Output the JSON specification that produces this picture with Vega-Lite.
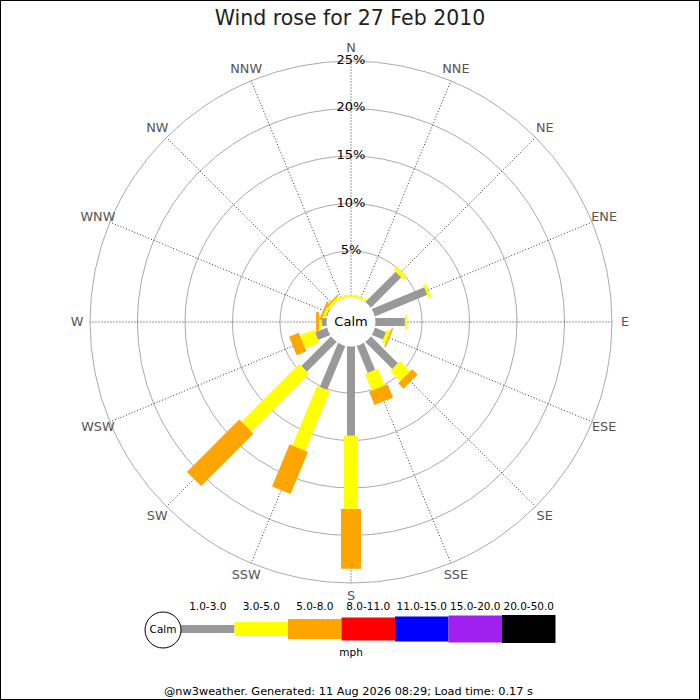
{
  "$schema": "https://vega.github.io/schema/vega-lite/v6.json",
  "width": 700,
  "height": 700,
  "autosize": "none",
  "padding": 0,
  "background": "white",
  "config": {
    "font": "DejaVu Sans",
    "view": {"stroke": "#000000", "strokeWidth": 2}
  },
  "title": {
    "text": "Wind rose for 27 Feb 2010",
    "font": "DejaVu Sans",
    "fontSize": 20.5,
    "fontWeight": "normal",
    "color": "#222222",
    "anchor": "middle",
    "baseline": "alphabetic",
    "offset": -45.5
  },
  "datasets": {
    "dirs": [
      {"dir": "N", "deg": 0},
      {"dir": "NNE", "deg": 22.5},
      {"dir": "NE", "deg": 45},
      {"dir": "ENE", "deg": 67.5},
      {"dir": "E", "deg": 90},
      {"dir": "ESE", "deg": 112.5},
      {"dir": "SE", "deg": 135},
      {"dir": "SSE", "deg": 157.5},
      {"dir": "S", "deg": 180},
      {"dir": "SSW", "deg": 202.5},
      {"dir": "SW", "deg": 225},
      {"dir": "WSW", "deg": 247.5},
      {"dir": "W", "deg": 270},
      {"dir": "WNW", "deg": 292.5},
      {"dir": "NW", "deg": 315},
      {"dir": "NNW", "deg": 337.5}
    ],
    "rings": [
      {"pct": 5, "label": "5%"},
      {"pct": 10, "label": "10%"},
      {"pct": 15, "label": "15%"},
      {"pct": 20, "label": "20%"},
      {"pct": 25, "label": "25%"}
    ],
    "bins": [
      {"speed": "1.0-3.0"},
      {"speed": "3.0-5.0"},
      {"speed": "5.0-8.0"},
      {"speed": "8.0-11.0"},
      {"speed": "11.0-15.0"},
      {"speed": "15.0-20.0"},
      {"speed": "20.0-50.0"}
    ],
    "rose": [
      {"dir": "N", "speed": "1.0-3.0", "pct": 0.05},
      {"dir": "N", "speed": "3.0-5.0", "pct": 0.3},
      {"dir": "NNE", "speed": "1.0-3.0", "pct": 0.05},
      {"dir": "NNE", "speed": "3.0-5.0", "pct": 0.3},
      {"dir": "NE", "speed": "1.0-3.0", "pct": 4.6},
      {"dir": "NE", "speed": "3.0-5.0", "pct": 0.45},
      {"dir": "ENE", "speed": "1.0-3.0", "pct": 6.05},
      {"dir": "ENE", "speed": "3.0-5.0", "pct": 0.3},
      {"dir": "E", "speed": "1.0-3.0", "pct": 3.2},
      {"dir": "E", "speed": "3.0-5.0", "pct": 0.2},
      {"dir": "ESE", "speed": "1.0-3.0", "pct": 1.35},
      {"dir": "ESE", "speed": "3.0-5.0", "pct": 0.4},
      {"dir": "ESE", "speed": "5.0-8.0", "pct": 0.15},
      {"dir": "SE", "speed": "1.0-3.0", "pct": 4.1},
      {"dir": "SE", "speed": "3.0-5.0", "pct": 1.5},
      {"dir": "SE", "speed": "5.0-8.0", "pct": 0.8},
      {"dir": "SSE", "speed": "1.0-3.0", "pct": 3.15},
      {"dir": "SSE", "speed": "3.0-5.0", "pct": 1.9},
      {"dir": "SSE", "speed": "5.0-8.0", "pct": 1.5},
      {"dir": "S", "speed": "1.0-3.0", "pct": 9.5},
      {"dir": "S", "speed": "3.0-5.0", "pct": 7.7},
      {"dir": "S", "speed": "5.0-8.0", "pct": 6.3},
      {"dir": "SSW", "speed": "1.0-3.0", "pct": 5.1},
      {"dir": "SSW", "speed": "3.0-5.0", "pct": 6.8},
      {"dir": "SSW", "speed": "5.0-8.0", "pct": 4.8},
      {"dir": "SW", "speed": "1.0-3.0", "pct": 4.5},
      {"dir": "SW", "speed": "3.0-5.0", "pct": 8.6},
      {"dir": "SW", "speed": "5.0-8.0", "pct": 7.8},
      {"dir": "WSW", "speed": "1.0-3.0", "pct": 1.45},
      {"dir": "WSW", "speed": "3.0-5.0", "pct": 1.6},
      {"dir": "WSW", "speed": "5.0-8.0", "pct": 1.1},
      {"dir": "W", "speed": "1.0-3.0", "pct": 0.6},
      {"dir": "W", "speed": "3.0-5.0", "pct": 0.3},
      {"dir": "W", "speed": "5.0-8.0", "pct": 0.3},
      {"dir": "WNW", "speed": "1.0-3.0", "pct": 0.2},
      {"dir": "WNW", "speed": "3.0-5.0", "pct": 0.3},
      {"dir": "WNW", "speed": "5.0-8.0", "pct": 0.2},
      {"dir": "NW", "speed": "1.0-3.0", "pct": 0.1},
      {"dir": "NW", "speed": "3.0-5.0", "pct": 0.3},
      {"dir": "NW", "speed": "5.0-8.0", "pct": 0.15},
      {"dir": "NNW", "speed": "1.0-3.0", "pct": 0.05},
      {"dir": "NNW", "speed": "3.0-5.0", "pct": 0.3}
    ]
  },
  "layer": [
    {
      "layer": [
        {
          "data": {"name": "rings"},
          "mark": {"type": "arc", "theta": 6.2832, "filled": false, "stroke": "#aaaaaa", "strokeWidth": 1},
          "encoding": {
            "x": {"datum": 0, "type": "quantitative", "scale": {"domain": [-36.947, 36.737], "nice": false, "zero": false}, "axis": null},
            "y": {"datum": 0, "type": "quantitative", "scale": {"domain": [-39.789, 33.895], "nice": false, "zero": false}, "axis": null},
            "radius": {"field": "pct", "type": "quantitative", "stack": null, "scale": {"type": "linear", "domain": [0, 25], "range": [23.5, 261], "zero": false}}
          }
        },
        {
          "data": {"name": "dirs"},
          "transform": [
            {"calculate": "2.474 * sin(datum.deg * PI / 180)", "as": "sx"},
            {"calculate": "2.474 * cos(datum.deg * PI / 180)", "as": "sy"},
            {"calculate": "27.474 * sin(datum.deg * PI / 180)", "as": "ex"},
            {"calculate": "27.474 * cos(datum.deg * PI / 180)", "as": "ey"}
          ],
          "mark": {"type": "rule", "stroke": "#333333", "strokeWidth": 1, "strokeDash": [1, 2]},
          "encoding": {
            "x": {"field": "sx", "type": "quantitative"},
            "y": {"field": "sy", "type": "quantitative"},
            "x2": {"field": "ex"},
            "y2": {"field": "ey"}
          }
        },
        {
          "data": {"name": "rose"},
          "transform": [
            {"lookup": "dir", "from": {"data": {"name": "dirs"}, "key": "dir", "fields": ["deg"]}},
            {"stack": "pct", "groupby": ["dir"], "sort": [{"field": "speed", "order": "ascending"}], "as": ["p0", "p1"]},
            {"calculate": "datum.deg * PI / 180", "as": "a"},
            {"calculate": "(2.474 + datum.p0) * sin(datum.a)", "as": "x0"},
            {"calculate": "(2.474 + datum.p0) * cos(datum.a)", "as": "y0"},
            {"calculate": "(2.474 + datum.p1) * sin(datum.a)", "as": "x1"},
            {"calculate": "(2.474 + datum.p1) * cos(datum.a)", "as": "y1"}
          ],
          "mark": {"type": "rule", "strokeCap": "butt"},
          "encoding": {
            "x": {"field": "x0", "type": "quantitative"},
            "y": {"field": "y0", "type": "quantitative"},
            "x2": {"field": "x1"},
            "y2": {"field": "y1"},
            "color": {
              "field": "speed",
              "type": "nominal",
              "scale": {
                "domain": ["1.0-3.0", "3.0-5.0", "5.0-8.0", "8.0-11.0", "11.0-15.0", "15.0-20.0", "20.0-50.0"],
                "range": ["#999999", "#ffff00", "#ffa500", "#ff0000", "#0000ff", "#a020f0", "#000000"]
              },
              "legend": null
            },
            "strokeWidth": {
              "field": "speed",
              "type": "nominal",
              "scale": {
                "type": "ordinal",
                "domain": ["1.0-3.0", "3.0-5.0", "5.0-8.0", "8.0-11.0", "11.0-15.0", "15.0-20.0", "20.0-50.0"],
                "range": [8, 14, 20, 23, 25, 27, 28]
              },
              "legend": null
            }
          }
        },
        {
          "data": {"values": [{"t": "Calm"}]},
          "mark": {"type": "arc", "theta": 6.2832, "radius": 24.5, "fill": "#ffffff"},
          "encoding": {
            "x": {"datum": 0, "type": "quantitative"},
            "y": {"datum": 0, "type": "quantitative"}
          }
        },
        {
          "data": {"values": [{"t": "Calm"}]},
          "mark": {"type": "text", "fontSize": 13, "color": "#000000"},
          "encoding": {
            "x": {"datum": 0, "type": "quantitative"},
            "y": {"datum": 0, "type": "quantitative"},
            "text": {"field": "t"}
          }
        },
        {
          "data": {"name": "rings"},
          "transform": [{"calculate": "2.474 + datum.pct", "as": "ry"}],
          "mark": {"type": "text", "fontSize": 13, "baseline": "alphabetic", "dy": 3, "color": "#000000"},
          "encoding": {
            "x": {"datum": 0, "type": "quantitative"},
            "y": {"field": "ry", "type": "quantitative"},
            "text": {"field": "label"}
          }
        },
        {
          "data": {"name": "dirs"},
          "transform": [
            {"calculate": "28.84 * sin(datum.deg * PI / 180)", "as": "lx"},
            {"calculate": "28.84 * cos(datum.deg * PI / 180)", "as": "ly"}
          ],
          "mark": {"type": "text", "fontSize": 12.8, "color": "#555555"},
          "encoding": {
            "x": {"field": "lx", "type": "quantitative"},
            "y": {"field": "ly", "type": "quantitative"},
            "text": {"field": "dir"}
          }
        }
      ]
    },
    {
      "layer": [
        {
          "data": {"name": "bins"},
          "transform": [
            {"window": [{"op": "row_number", "as": "i"}]},
            {"calculate": "datum.i - 1", "as": "i0"}
          ],
          "mark": {"type": "rule", "strokeCap": "butt"},
          "encoding": {
            "x": {"field": "i0", "type": "quantitative", "scale": {"domain": [0, 7], "range": [181, 555.5], "nice": false, "zero": false}, "axis": null},
            "x2": {"field": "i"},
            "y": {"datum": 29, "type": "quantitative", "scale": {"domain": [0, 100], "range": [600, 700], "nice": false, "zero": false}, "axis": null},
            "color": {
              "field": "speed",
              "type": "nominal",
              "scale": {
                "domain": ["1.0-3.0", "3.0-5.0", "5.0-8.0", "8.0-11.0", "11.0-15.0", "15.0-20.0", "20.0-50.0"],
                "range": ["#999999", "#ffff00", "#ffa500", "#ff0000", "#0000ff", "#a020f0", "#000000"]
              },
              "legend": null
            },
            "strokeWidth": {
              "field": "speed",
              "type": "nominal",
              "scale": {
                "type": "ordinal",
                "domain": ["1.0-3.0", "3.0-5.0", "5.0-8.0", "8.0-11.0", "11.0-15.0", "15.0-20.0", "20.0-50.0"],
                "range": [8, 14, 20, 23, 25, 27, 28]
              },
              "legend": null
            }
          }
        },
        {
          "data": {"name": "bins"},
          "transform": [
            {"window": [{"op": "row_number", "as": "i"}]},
            {"calculate": "datum.i - 0.5", "as": "im"}
          ],
          "mark": {"type": "text", "fontSize": 10.5, "color": "#000000"},
          "encoding": {
            "x": {"field": "im", "type": "quantitative"},
            "y": {"datum": 7, "type": "quantitative"},
            "text": {"field": "speed"}
          }
        },
        {
          "data": {"values": [{"t": "Calm"}]},
          "mark": {"type": "point", "shape": "circle", "filled": true, "fill": "#ffffff", "stroke": "#000000", "strokeWidth": 1, "size": 1296, "opacity": 1},
          "encoding": {
            "x": {"datum": -0.336, "type": "quantitative"},
            "y": {"datum": 30, "type": "quantitative"}
          }
        },
        {
          "data": {"values": [{"t": "Calm"}]},
          "mark": {"type": "text", "fontSize": 10.5, "color": "#000000"},
          "encoding": {
            "x": {"datum": -0.336, "type": "quantitative"},
            "y": {"datum": 30, "type": "quantitative"},
            "text": {"field": "t"}
          }
        },
        {
          "data": {"values": [{"t": "mph"}]},
          "mark": {"type": "text", "fontSize": 10.5, "color": "#000000"},
          "encoding": {
            "x": {"datum": 3.18, "type": "quantitative"},
            "y": {"datum": 53, "type": "quantitative"},
            "text": {"field": "t"}
          }
        },
        {
          "data": {"values": [{"t": "@nw3weather. Generated: 11 Aug 2026 08:29; Load time: 0.17 s"}]},
          "mark": {"type": "text", "fontSize": 11.3, "color": "#000000"},
          "encoding": {
            "x": {"datum": 3.13, "type": "quantitative"},
            "y": {"datum": 91.5, "type": "quantitative"},
            "text": {"field": "t"}
          }
        }
      ]
    }
  ],
  "resolve": {"scale": {"x": "independent", "y": "independent"}}
}
